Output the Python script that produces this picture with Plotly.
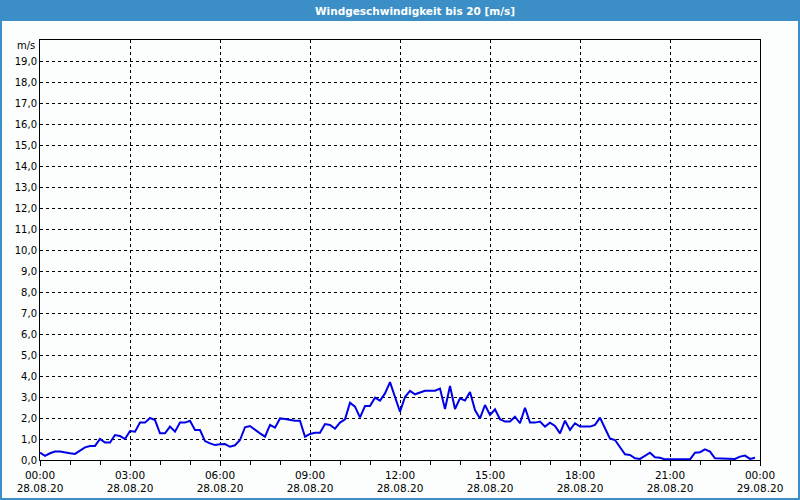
import plotly.graph_objects as go
import pandas as pd

# ---- data (10-minute wind speed readings, m/s) ----
start_time = "2020-08-28 00:00"
interval = "10min"
speed = [
    0.35, 0.20, 0.32, 0.40, 0.40, 0.35, 0.32, 0.29, 0.44, 0.60, 0.67, 0.67,
    1.00, 0.83, 0.83, 1.19, 1.14, 1.00, 1.38, 1.35, 1.78, 1.78, 2.00, 1.90,
    1.27, 1.27, 1.59, 1.35, 1.78, 1.78, 1.87, 1.43, 1.43, 0.90, 0.79, 0.71,
    0.75, 0.76, 0.63, 0.70, 0.95, 1.56, 1.62, 1.43, 1.27, 1.11, 1.67, 1.54,
    1.98, 1.95, 1.90, 1.87, 1.87, 1.11, 1.24, 1.30, 1.30, 1.71, 1.67, 1.49,
    1.78, 1.94, 2.73, 2.54, 2.03, 2.57, 2.57, 2.97, 2.83, 3.17, 3.71, 3.02,
    2.30, 3.00, 3.29, 3.13, 3.20, 3.30, 3.30, 3.30, 3.40, 2.43, 3.52, 2.43,
    2.94, 2.83, 3.24, 2.38, 1.98, 2.62, 2.14, 2.41, 1.94, 1.83, 1.83, 2.06,
    1.75, 2.49, 1.78, 1.78, 1.83, 1.59, 1.78, 1.62, 1.27, 1.87, 1.43, 1.75,
    1.59, 1.59, 1.59, 1.67, 2.02, 1.51, 1.02, 0.95, 0.63, 0.27, 0.24, 0.08,
    0.05, 0.21, 0.35, 0.13, 0.11, 0.03, 0.03, 0.03, 0.03, 0.03, 0.03, 0.35,
    0.37, 0.51, 0.40, 0.08, 0.08, 0.08, 0.05, 0.05, 0.16, 0.21, 0.05, 0.11,
]
x_tick_vals = ["2020-08-28 00:00", "2020-08-28 03:00", "2020-08-28 06:00",
               "2020-08-28 09:00", "2020-08-28 12:00", "2020-08-28 15:00",
               "2020-08-28 18:00", "2020-08-28 21:00", "2020-08-29 00:00"]
x_tick_text = ["00:00<br>28.08.20", "03:00<br>28.08.20", "06:00<br>28.08.20",
               "09:00<br>28.08.20", "12:00<br>28.08.20", "15:00<br>28.08.20",
               "18:00<br>28.08.20", "21:00<br>28.08.20", "00:00<br>29.08.20"]
y_tick_vals = list(range(0, 20))
y_tick_text = [f"{v},0" for v in y_tick_vals]
title_text = "Windgeschwindigkeit bis 20 [m/s]"
unit_text = "m/s"

times = pd.date_range(start_time, periods=len(speed), freq=interval)

BLUE = "#3C8FC6"
BG = "#FBFEFC"
FONT = "DejaVu Sans"

fig = go.Figure()
fig.add_trace(go.Scatter(x=times, y=speed, mode="lines",
                         line=dict(color="#0000E6", width=2),
                         hoverinfo="skip", showlegend=False))

W, H = 800, 500
L, R, T, B = 40, 40, 40, 40
pw, ph = W - L - R, H - T - B

def px_x(p):
    return (p - L) / pw

def px_y(p):
    return (H - B - p) / ph

fig.update_layout(
    width=W, height=H,
    margin=dict(l=L, r=R, t=T, b=B, autoexpand=False),
    paper_bgcolor=BG, plot_bgcolor=BG,
    font=dict(family=FONT, size=10, color="#000000"),
    xaxis=dict(
        type="date", automargin=False,
        range=["2020-08-28 00:00", "2020-08-29 00:00"],
        tickmode="array", tickvals=x_tick_vals, ticktext=x_tick_text,
        ticks="outside", ticklen=5, tickcolor="#000", tickwidth=1,
        tickfont=dict(size=10.5),
        showgrid=True, gridcolor="#000", griddash="3px,3px", gridwidth=1,
        showline=True, linecolor="#000", linewidth=1, mirror=True,
        minor=dict(dtick=3600000, tick0="2020-08-28 00:00", ticks="outside",
                   ticklen=4, tickcolor="#000", showgrid=False),
        zeroline=False, fixedrange=True,
    ),
    yaxis=dict(
        range=[0, 20], automargin=False,
        tickmode="array", tickvals=y_tick_vals, ticktext=y_tick_text,
        ticks="", showgrid=True, gridcolor="#000", griddash="3px,3px",
        gridwidth=1,
        showline=True, linecolor="#000", linewidth=1, mirror=True,
        zeroline=False, fixedrange=True,
    ),
    shapes=[
        dict(type="rect", xref="paper", yref="paper",
             x0=px_x(0), x1=px_x(W), y0=px_y(21), y1=px_y(0),
             fillcolor=BLUE, line=dict(width=0), layer="below"),
        dict(type="rect", xref="paper", yref="paper",
             x0=px_x(1), x1=px_x(W - 1), y0=px_y(H - 1), y1=px_y(1),
             fillcolor="rgba(0,0,0,0)", line=dict(color=BLUE, width=2)),
    ],
    annotations=[
        dict(text=f"<b>{title_text}</b>", xref="paper", yref="paper",
             x=px_x(415), y=px_y(10.5), xanchor="center", yanchor="middle",
             showarrow=False, font=dict(family=FONT, size=10.5, color="#FFFFFF")),
        dict(text=unit_text, xref="paper", yref="paper",
             x=px_x(37), y=px_y(46), xanchor="right", yanchor="middle",
             showarrow=False, font=dict(family=FONT, size=10, color="#000")),
    ],
)

fig.write_html("out.html")
